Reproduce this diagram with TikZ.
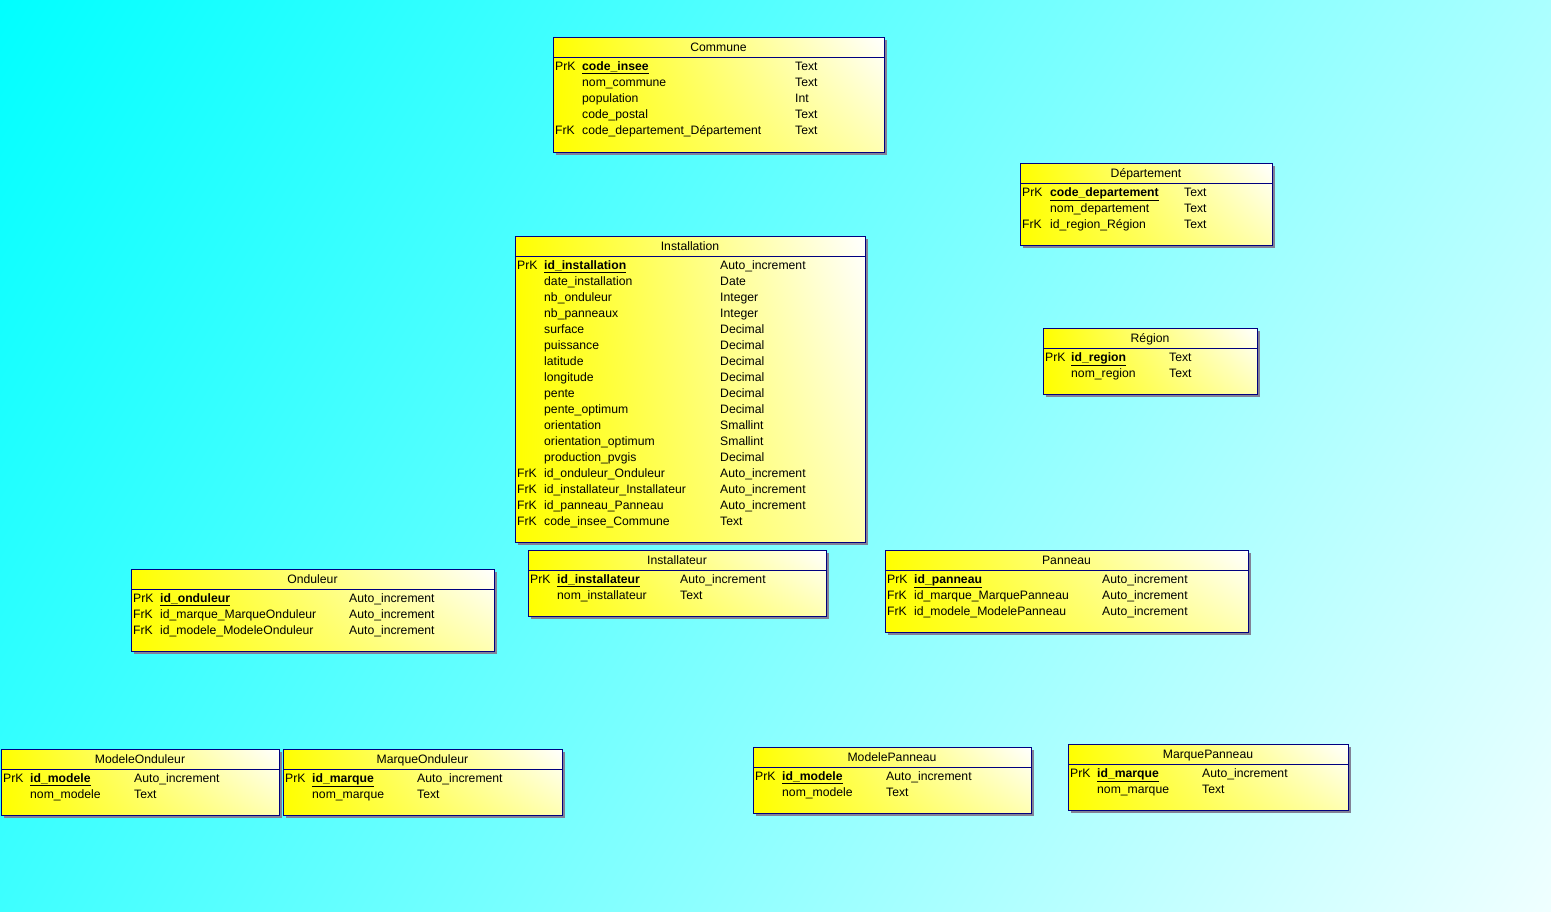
\documentclass[tikz,border=0pt]{standalone}
\usepackage{fontspec}
\setmainfont{Liberation Sans}
\usetikzlibrary{positioning,shadings}

\definecolor{tableborder}{RGB}{0,0,128}
\definecolor{tableshadow}{RGB}{130,130,150}

\tikzset{
  tabletitle/.style={anchor=base, inner sep=0pt, font=\fontsize{12.2}{14}\selectfont},
  keycol/.style={anchor=base west, inner sep=0pt, font=\fontsize{12.2}{14}\selectfont},
  fieldcol/.style={anchor=base west, inner sep=0pt, font=\fontsize{12.2}{14}\selectfont},
  typecol/.style={anchor=base west, inner sep=0pt, font=\fontsize{12.2}{14}\selectfont},
  tableline/.style={draw=tableborder, line width=1pt}
}

% table frame: name, left, top, right, bottom, title
\newcommand{\dbtable}[6]{%
  \fill[tableshadow] (#2+3,#3+3) rectangle (#4+3,#5+3);
  \shade[upper left=yellow, lower left=yellow, upper right=white,
         lower right=yellow!30!white] (#2,#3) rectangle (#4,#5);
  \draw[tableline] (#2,#3) rectangle (#4,#5);
  \draw[tableline] (#2,#3+20) -- (#4,#3+20);
  \node[tabletitle] (#1) at ({(#2+#4)/2},#3+14.5) {#6};
}

% table rows: name, left, top, field x, type x, rows
\newcommand{\dbrows}[6]{%
  \foreach \k/\f/\t [count=\i] in {#6} {
    \node[keycol] (#1-\i-k) at (#2+2,#3+17.5+16*\i) {\k};
    \node[fieldcol] (#1-\i-f) at (#4,#3+17.5+16*\i) {\f};
    \node[typecol] (#1-\i-t) at (#5,#3+17.5+16*\i) {\t};
  }
}

\newcommand{\pkey}[1]{\underline{\textbf{#1}}}

\begin{document}
\begin{tikzpicture}[x=1pt,y=-1pt]
  \useasboundingbox (0,0) rectangle (1551,911);
  \shade[upper left=cyan, upper right=cyan!33!white,
         lower left=cyan!76!white, lower right=cyan!6!white] (0,0) rectangle (1551,911);

  % Commune
  \dbtable{commune}{553}{37}{884}{152}{Commune}
  \dbrows{commune}{553}{37}{582}{795}{
    PrK/\pkey{code\_insee}/Text,
    /nom\_commune/Text,
    /population/Int,
    /code\_postal/Text,
    FrK/code\_departement\_Département/Text}

  % Departement
  \dbtable{departement}{1020}{163}{1272}{245}{Département}
  \dbrows{departement}{1020}{163}{1050}{1184}{
    PrK/\pkey{code\_departement}/Text,
    /nom\_departement/Text,
    FrK/id\_region\_Région/Text}

  % Installation
  \dbtable{installation}{515}{236}{865}{542}{Installation}
  \dbrows{installation}{515}{236}{544}{720}{
    PrK/\pkey{id\_installation}/Auto\_increment,
    /date\_installation/Date,
    /nb\_onduleur/Integer,
    /nb\_panneaux/Integer,
    /surface/Decimal,
    /puissance/Decimal,
    /latitude/Decimal,
    /longitude/Decimal,
    /pente/Decimal,
    /pente\_optimum/Decimal,
    /orientation/Smallint,
    /orientation\_optimum/Smallint,
    /production\_pvgis/Decimal,
    FrK/id\_onduleur\_Onduleur/Auto\_increment,
    FrK/id\_installateur\_Installateur/Auto\_increment,
    FrK/id\_panneau\_Panneau/Auto\_increment,
    FrK/code\_insee\_Commune/Text}

  % Region
  \dbtable{region}{1043}{328}{1257}{394}{Région}
  \dbrows{region}{1043}{328}{1071}{1169}{
    PrK/\pkey{id\_region}/Text,
    /nom\_region/Text}

  % Installateur
  \dbtable{installateur}{528}{550}{826}{616}{Installateur}
  \dbrows{installateur}{528}{550}{557}{680}{
    PrK/\pkey{id\_installateur}/Auto\_increment,
    /nom\_installateur/Text}

  % Panneau
  \dbtable{panneau}{885}{550}{1248}{632}{Panneau}
  \dbrows{panneau}{885}{550}{914}{1102}{
    PrK/\pkey{id\_panneau}/Auto\_increment,
    FrK/id\_marque\_MarquePanneau/Auto\_increment,
    FrK/id\_modele\_ModelePanneau/Auto\_increment}

  % Onduleur
  \dbtable{onduleur}{131}{569}{494}{651}{Onduleur}
  \dbrows{onduleur}{131}{569}{160}{349}{
    PrK/\pkey{id\_onduleur}/Auto\_increment,
    FrK/id\_marque\_MarqueOnduleur/Auto\_increment,
    FrK/id\_modele\_ModeleOnduleur/Auto\_increment}

  % ModeleOnduleur
  \dbtable{modeleond}{1}{749}{279}{815}{ModeleOnduleur}
  \dbrows{modeleond}{1}{749}{30}{134}{
    PrK/\pkey{id\_modele}/Auto\_increment,
    /nom\_modele/Text}

  % MarqueOnduleur
  \dbtable{marqueond}{283}{749}{562}{815}{MarqueOnduleur}
  \dbrows{marqueond}{283}{749}{312}{417}{
    PrK/\pkey{id\_marque}/Auto\_increment,
    /nom\_marque/Text}

  % ModelePanneau
  \dbtable{modelepan}{753}{747}{1031}{813}{ModelePanneau}
  \dbrows{modelepan}{753}{747}{782}{886}{
    PrK/\pkey{id\_modele}/Auto\_increment,
    /nom\_modele/Text}

  % MarquePanneau
  \dbtable{marquepan}{1068}{744}{1348}{810}{MarquePanneau}
  \dbrows{marquepan}{1068}{744}{1097}{1202}{
    PrK/\pkey{id\_marque}/Auto\_increment,
    /nom\_marque/Text}
\end{tikzpicture}
\end{document}
